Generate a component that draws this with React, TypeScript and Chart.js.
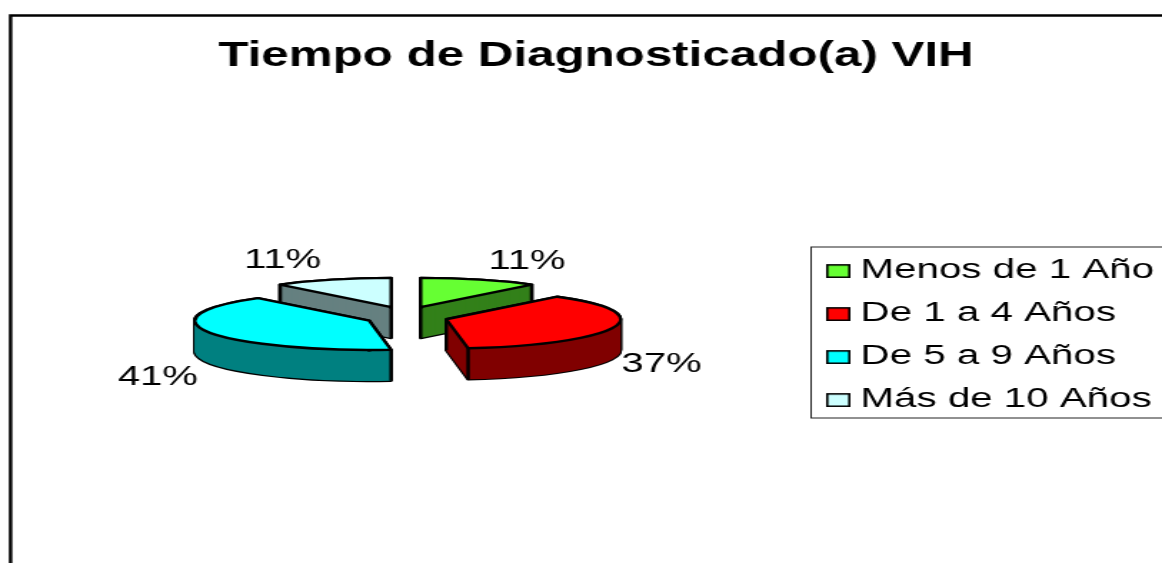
import React, { useEffect, useRef } from "react";
import { Chart, registerables } from "chart.js";

Chart.register(...registerables);

const TITLE = "Tiempo de Diagnosticado(a) VIH";
const CATEGORIES = ["Menos de 1 Año", "De 1 a 4 Años", "De 5 a 9 Años", "Más de 10 Años"];
const VALUES = [11, 37, 41, 11];
const TOP_COLORS = ["#66FF33", "#FF0000", "#00FFFF", "#CCFFFF"];
const WALL_COLORS = ["#33801A", "#800000", "#008080", "#668080"];

// The reference is a horizontally stretched picture: the chart is laid out narrow and the canvas widened.
const LOGICAL_W = 813;
const LOGICAL_H = 563;
const STRETCH = 1162 / LOGICAL_W;
const FONT = "'Liberation Sans', Arial, sans-serif";
const SQUASH = 0.24;
const DEPTH = 31;
const SLICE_OFFSET = [30.5, 29.4, 28, 30.5];
const SLICE_LIFT = [0.5, 3.8, 4.5, 0.5];
const LABEL_SHIFT = [[33, -18.5], [33.5, 37], [-35.9, 45], [-34.6, -19]];

function swatch(color: string) {
  const c = document.createElement("canvas");
  c.width = 17;
  c.height = 16;
  const g = c.getContext("2d")!;
  g.fillStyle = color;
  g.fillRect(1, 3, 15, 12);
  g.strokeStyle = "#000";
  g.lineWidth = 1.6;
  g.strokeRect(0.8, 2.8, 15.4, 12.4);
  return c;
}

const pie3d = {
  id: "pie3d",
  afterLayout(chart: any) {
    const a = chart.chartArea;
    a.left = 84; a.right = 484; a.top = 113.5; a.bottom = 513.5;
    a.width = 400; a.height = 400;
    const t = chart.titleBlock;
    t.left = 117; t.right = 717; t.top = 35.4; t.bottom = 77;
    const l = chart.legend;
    l.left = 570.2; l.top = 241.2; l.right = LOGICAL_W; l.bottom = LOGICAL_H;
  },
  beforeDraw(chart: any) {
    const ctx = chart.ctx;
    ctx.save();
    ctx.strokeStyle = "#000";
    ctx.lineWidth = 2.4;
    ctx.beginPath();
    ctx.moveTo(7.4, LOGICAL_H + 5);
    ctx.lineTo(7.4, 15.5);
    ctx.lineTo(LOGICAL_W + 5, 15.5);
    ctx.stroke();
    ctx.lineWidth = 1;
    ctx.strokeStyle = "#222";
    ctx.strokeRect(567.5, 247, 300, 171);
    ctx.restore();
  },
  beforeDatasetsDraw(chart: any) {
    const ctx = chart.ctx;
    const arcs: any[] = chart.getDatasetMeta(0).data;
    const geo = arcs.map((arc, i) => {
      const mid = (arc.startAngle + arc.endAngle) / 2;
      const off = arc.options.offset;
      return {
        i, mid,
        start: arc.startAngle, end: arc.endAngle, r: arc.outerRadius,
        x: arc.x + Math.cos(mid) * off,
        y: arc.y + Math.sin(mid) * off * SQUASH + SLICE_LIFT[i],
      };
    });
    const path = (g: any, dy: number) => {
      ctx.save();
      ctx.translate(g.x, g.y + dy);
      ctx.scale(1, SQUASH);
      ctx.beginPath();
      ctx.moveTo(0, 0);
      ctx.arc(0, 0, g.r, g.start, g.end);
      ctx.closePath();
      ctx.restore();
    };
    ctx.save();
    ctx.lineJoin = "round";
    ctx.lineWidth = 2.4;
    ctx.strokeStyle = "#000";
    const order = [...geo].sort((a, b) => Math.sin(a.mid) - Math.sin(b.mid));
    for (const g of order) {
      for (let dy = DEPTH; dy >= 0; dy--) { path(g, dy); ctx.stroke(); }
      ctx.fillStyle = WALL_COLORS[g.i];
      for (let dy = DEPTH; dy >= 0; dy--) { path(g, dy); ctx.fill(); }
      const corners = [
        [g.x, g.y],
        [g.x + Math.cos(g.start) * g.r, g.y + Math.sin(g.start) * g.r * SQUASH],
        [g.x + Math.cos(g.end) * g.r, g.y + Math.sin(g.end) * g.r * SQUASH],
      ];
      for (const [px, py] of corners) {
        ctx.beginPath();
        ctx.moveTo(px, py);
        ctx.lineTo(px, py + DEPTH);
        ctx.stroke();
      }
      path(g, 0);
      ctx.fillStyle = TOP_COLORS[g.i];
      ctx.fill();
      ctx.stroke();
    }
    const total = VALUES.reduce((s, v) => s + v, 0);
    ctx.fillStyle = "#000";
    ctx.font = `28px ${FONT}`;
    ctx.textAlign = "center";
    ctx.textBaseline = "middle";
    geo.forEach((g) => {
      const rx = g.x + Math.cos(g.mid) * g.r;
      const ry = g.y + Math.sin(g.mid) * g.r * SQUASH;
      ctx.fillText(`${Math.round((VALUES[g.i] / total) * 100)}%`, rx + LABEL_SHIFT[g.i][0], ry + LABEL_SHIFT[g.i][1]);
    });
    ctx.restore();
    return false;
  },
};

export default function App() {
  const ref = useRef<HTMLCanvasElement>(null);
  useEffect(() => {
    const chart = new Chart(ref.current!, {
      type: "pie",
      data: {
        labels: CATEGORIES,
        datasets: [{ data: VALUES, backgroundColor: TOP_COLORS, borderColor: "#000", borderWidth: 0, offset: SLICE_OFFSET }],
      },
      options: {
        animation: false,
        responsive: false,
        devicePixelRatio: 1,
        events: [],
        radius: 122,
        plugins: {
          tooltip: { enabled: false },
          title: {
            display: true,
            text: TITLE,
            color: "#000",
            padding: 0,
            font: { family: FONT, size: 34.5, weight: "bold", lineHeight: 1.2 },
          },
          legend: {
            display: true,
            position: "right",
            align: "start",
            padding: 0,
            labels: {
              color: "#000",
              usePointStyle: true,
              pointStyleWidth: 3,
              padding: 14.8,
              font: { family: FONT, size: 28.2, lineHeight: 1.2 },
              generateLabels: () =>
                CATEGORIES.map((text, i) => ({
                  text,
                  pointStyle: swatch(TOP_COLORS[i]),
                  fillStyle: TOP_COLORS[i],
                  strokeStyle: "#000",
                  lineWidth: 1,
                  fontColor: "#000",
                  index: i,
                })),
            },
          },
        },
      } as any,
      plugins: [pie3d as any],
    });
    return () => chart.destroy();
  }, []);
  return (
    <div style={{ position: "absolute", left: 0, top: 0, width: 1162, height: 563, overflow: "hidden", background: "#fff" }}>
      <canvas
        ref={ref}
        width={LOGICAL_W}
        height={LOGICAL_H}
        style={{ position: "absolute", left: 0, top: 0, transformOrigin: "0 0", transform: `scaleX(${STRETCH})` }}
      />
    </div>
  );
}
